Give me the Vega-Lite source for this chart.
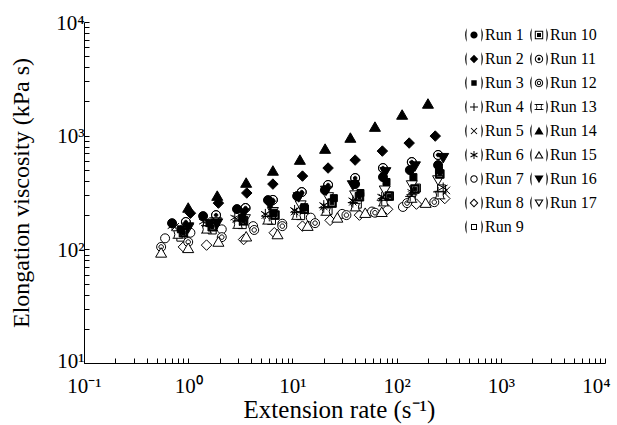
{
  "$schema": "https://vega.github.io/schema/vega-lite/v6.json",
  "width": 521,
  "height": 341,
  "autosize": {"type": "none"},
  "padding": {"left": 84, "top": 22, "right": 12, "bottom": 62},
  "background": "white",
  "config": {
    "view": {"stroke": null},
    "font": "Liberation Serif",
    "axis": {
      "grid": false,
      "domainColor": "black",
      "domainWidth": 1,
      "tickColor": "black",
      "tickWidth": 1,
      "tickSize": -5,
      "labelColor": "black",
      "titleColor": "black",
      "labelFont": "Liberation Serif",
      "titleFont": "Liberation Serif",
      "labelFontSize": 21,
      "titleFontWeight": "normal",
      "labelFlush": false,
      "labelOverlap": false,
      "labelBound": false
    },
    "legend": {
      "labelFont": "Liberation Serif",
      "labelFontSize": 16,
      "labelColor": "black",
      "symbolFillColor": "black",
      "symbolStrokeWidth": 0,
      "symbolOpacity": 1,
      "symbolSize": 400,
      "padding": 0
    }
  },
  "data": {
    "values": [
      {"run": "Run 7", "x": 0.6, "y": 125}, {"run": "Run 7", "x": 1.05, "y": 140}, {"run": "Run 7", "x": 2.1, "y": 150}, {"run": "Run 7", "x": 4.2, "y": 160}, {"run": "Run 7", "x": 8, "y": 168}, {"run": "Run 7", "x": 15, "y": 190}, {"run": "Run 7", "x": 30, "y": 205}, {"run": "Run 7", "x": 58, "y": 215}, {"run": "Run 7", "x": 115, "y": 236}, {"run": "Run 7", "x": 270, "y": 319},
      {"run": "Run 8", "x": 0.9, "y": 105}, {"run": "Run 8", "x": 1.5, "y": 109}, {"run": "Run 8", "x": 3.4, "y": 122}, {"run": "Run 8", "x": 6.7, "y": 140}, {"run": "Run 8", "x": 12.5, "y": 160}, {"run": "Run 8", "x": 23, "y": 180}, {"run": "Run 8", "x": 44, "y": 200}, {"run": "Run 8", "x": 82, "y": 225}, {"run": "Run 8", "x": 155, "y": 250}, {"run": "Run 8", "x": 290, "y": 280},
      {"run": "Run 9", "x": 0.85, "y": 128}, {"run": "Run 9", "x": 1.7, "y": 148}, {"run": "Run 9", "x": 3.3, "y": 165}, {"run": "Run 9", "x": 6.3, "y": 180}, {"run": "Run 9", "x": 12, "y": 198}, {"run": "Run 9", "x": 22, "y": 220}, {"run": "Run 9", "x": 42, "y": 250}, {"run": "Run 9", "x": 82, "y": 294}, {"run": "Run 9", "x": 155, "y": 346}, {"run": "Run 9", "x": 270, "y": 340},
      {"run": "Run 12", "x": 0.55, "y": 105}, {"run": "Run 12", "x": 1.0, "y": 116}, {"run": "Run 12", "x": 2.1, "y": 128}, {"run": "Run 12", "x": 4.3, "y": 148}, {"run": "Run 12", "x": 8, "y": 160}, {"run": "Run 12", "x": 16.5, "y": 170}, {"run": "Run 12", "x": 33, "y": 200}, {"run": "Run 12", "x": 62, "y": 210}, {"run": "Run 12", "x": 126, "y": 255}, {"run": "Run 12", "x": 230, "y": 260},
      {"run": "Run 13", "x": 0.8, "y": 135}, {"run": "Run 13", "x": 1.5, "y": 150}, {"run": "Run 13", "x": 3.0, "y": 165}, {"run": "Run 13", "x": 5.8, "y": 180}, {"run": "Run 13", "x": 11, "y": 198}, {"run": "Run 13", "x": 21, "y": 215}, {"run": "Run 13", "x": 40, "y": 235}, {"run": "Run 13", "x": 75, "y": 260}, {"run": "Run 13", "x": 140, "y": 280}, {"run": "Run 13", "x": 260, "y": 300},
      {"run": "Run 15", "x": 0.55, "y": 93}, {"run": "Run 15", "x": 1.0, "y": 102}, {"run": "Run 15", "x": 1.95, "y": 116}, {"run": "Run 15", "x": 3.6, "y": 129}, {"run": "Run 15", "x": 7.2, "y": 135}, {"run": "Run 15", "x": 14, "y": 160}, {"run": "Run 15", "x": 27, "y": 189}, {"run": "Run 15", "x": 50, "y": 208}, {"run": "Run 15", "x": 72, "y": 212}, {"run": "Run 15", "x": 190, "y": 255},
      {"run": "Run 17", "x": 1.0, "y": 154}, {"run": "Run 17", "x": 1.85, "y": 174}, {"run": "Run 17", "x": 3.5, "y": 185}, {"run": "Run 17", "x": 6.5, "y": 214}, {"run": "Run 17", "x": 12, "y": 245}, {"run": "Run 17", "x": 22, "y": 289}, {"run": "Run 17", "x": 40, "y": 300}, {"run": "Run 17", "x": 77, "y": 331}, {"run": "Run 17", "x": 140, "y": 368}, {"run": "Run 17", "x": 250, "y": 407},
      {"run": "Run 4", "x": 0.85, "y": 148}, {"run": "Run 4", "x": 1.6, "y": 160}, {"run": "Run 4", "x": 3.1, "y": 178}, {"run": "Run 4", "x": 6.0, "y": 195}, {"run": "Run 4", "x": 11, "y": 210}, {"run": "Run 4", "x": 20, "y": 232}, {"run": "Run 4", "x": 38, "y": 258}, {"run": "Run 4", "x": 72, "y": 270}, {"run": "Run 4", "x": 135, "y": 292}, {"run": "Run 4", "x": 250, "y": 320},
      {"run": "Run 5", "x": 0.75, "y": 158}, {"run": "Run 5", "x": 1.5, "y": 178}, {"run": "Run 5", "x": 2.9, "y": 185}, {"run": "Run 5", "x": 5.5, "y": 200}, {"run": "Run 5", "x": 10.5, "y": 215}, {"run": "Run 5", "x": 20, "y": 238}, {"run": "Run 5", "x": 38, "y": 262}, {"run": "Run 5", "x": 73, "y": 285}, {"run": "Run 5", "x": 140, "y": 300}, {"run": "Run 5", "x": 300, "y": 330},
      {"run": "Run 6", "x": 0.7, "y": 160}, {"run": "Run 6", "x": 1.4, "y": 175}, {"run": "Run 6", "x": 2.8, "y": 190}, {"run": "Run 6", "x": 5.5, "y": 205}, {"run": "Run 6", "x": 10.5, "y": 222}, {"run": "Run 6", "x": 20, "y": 245}, {"run": "Run 6", "x": 38, "y": 270}, {"run": "Run 6", "x": 72, "y": 290}, {"run": "Run 6", "x": 140, "y": 320}, {"run": "Run 6", "x": 280, "y": 350},
      {"run": "Run 1", "x": 0.7, "y": 170}, {"run": "Run 1", "x": 1.39, "y": 196}, {"run": "Run 1", "x": 2.94, "y": 226}, {"run": "Run 1", "x": 5.83, "y": 271}, {"run": "Run 1", "x": 11.1, "y": 294}, {"run": "Run 1", "x": 20.5, "y": 332}, {"run": "Run 1", "x": 40, "y": 375}, {"run": "Run 1", "x": 74, "y": 432}, {"run": "Run 1", "x": 134, "y": 498}, {"run": "Run 1", "x": 250, "y": 551},
      {"run": "Run 3", "x": 0.85, "y": 150}, {"run": "Run 3", "x": 1.6, "y": 170}, {"run": "Run 3", "x": 3.3, "y": 190}, {"run": "Run 3", "x": 6.6, "y": 210}, {"run": "Run 3", "x": 13, "y": 235}, {"run": "Run 3", "x": 25, "y": 282}, {"run": "Run 3", "x": 45, "y": 313}, {"run": "Run 3", "x": 80, "y": 391}, {"run": "Run 3", "x": 145, "y": 432}, {"run": "Run 3", "x": 255, "y": 498},
      {"run": "Run 10", "x": 0.9, "y": 140}, {"run": "Run 10", "x": 1.7, "y": 158}, {"run": "Run 10", "x": 3.4, "y": 178}, {"run": "Run 10", "x": 6.8, "y": 200}, {"run": "Run 10", "x": 13, "y": 225}, {"run": "Run 10", "x": 24, "y": 255}, {"run": "Run 10", "x": 44, "y": 290}, {"run": "Run 10", "x": 85, "y": 294}, {"run": "Run 10", "x": 150, "y": 339}, {"run": "Run 10", "x": 260, "y": 460},
      {"run": "Run 11", "x": 0.95, "y": 174}, {"run": "Run 11", "x": 1.85, "y": 200}, {"run": "Run 11", "x": 3.55, "y": 231}, {"run": "Run 11", "x": 6.5, "y": 272}, {"run": "Run 11", "x": 12.3, "y": 319}, {"run": "Run 11", "x": 22, "y": 368}, {"run": "Run 11", "x": 40, "y": 424}, {"run": "Run 11", "x": 74, "y": 519}, {"run": "Run 11", "x": 140, "y": 586}, {"run": "Run 11", "x": 250, "y": 676},
      {"run": "Run 16", "x": 1.0, "y": 157}, {"run": "Run 16", "x": 1.9, "y": 170}, {"run": "Run 16", "x": 3.4, "y": 209}, {"run": "Run 16", "x": 6.1, "y": 245}, {"run": "Run 16", "x": 11.5, "y": 289}, {"run": "Run 16", "x": 21, "y": 330}, {"run": "Run 16", "x": 38, "y": 368}, {"run": "Run 16", "x": 78, "y": 480}, {"run": "Run 16", "x": 150, "y": 540}, {"run": "Run 16", "x": 280, "y": 640},
      {"run": "Run 2", "x": 1.05, "y": 208}, {"run": "Run 2", "x": 1.95, "y": 255}, {"run": "Run 2", "x": 3.65, "y": 313}, {"run": "Run 2", "x": 6.5, "y": 375}, {"run": "Run 2", "x": 12.5, "y": 441}, {"run": "Run 2", "x": 22, "y": 519}, {"run": "Run 2", "x": 40, "y": 610}, {"run": "Run 2", "x": 73, "y": 732}, {"run": "Run 2", "x": 132, "y": 861}, {"run": "Run 2", "x": 235, "y": 992},
      {"run": "Run 14", "x": 1.0, "y": 231}, {"run": "Run 14", "x": 1.9, "y": 294}, {"run": "Run 14", "x": 3.6, "y": 383}, {"run": "Run 14", "x": 6.5, "y": 489}, {"run": "Run 14", "x": 11.8, "y": 610}, {"run": "Run 14", "x": 20.6, "y": 762}, {"run": "Run 14", "x": 36, "y": 953}, {"run": "Run 14", "x": 62, "y": 1190}, {"run": "Run 14", "x": 113, "y": 1520}, {"run": "Run 14", "x": 200, "y": 1900}
    ]
  },
  "encoding": {
    "x": {
      "field": "x", "type": "quantitative",
      "scale": {"type": "log", "domain": [0.1, 10000]},
      "axis": {
        "title": "Extension rate (s⁻¹)",
        "titleFontSize": 25,
        "titleX": 255,
        "values": [0.1,0.2,0.3,0.4,0.5,0.6,0.7,0.8,0.9,1,2,3,4,5,6,7,8,9,10,20,30,40,50,60,70,80,90,100,200,300,400,500,600,700,800,900,1000,2000,3000,4000,5000,6000,7000,8000,9000,10000],
        "labelExpr": "datum.value == 0.1 ? '10⁻¹' : datum.value == 1 ? '10⁰' : datum.value == 10 ? '10¹' : datum.value == 100 ? '10²' : datum.value == 1000 ? '10³' : datum.value == 10000 ? '10⁴' : ''",
        "labelOffset": {"condition": {"test": "datum.value == 10000", "value": -9}, "value": 0},
        "labelPadding": 17,
        "titlePadding": 1
      }
    },
    "y": {
      "field": "y", "type": "quantitative",
      "scale": {"type": "log", "domain": [10, 10000]},
      "axis": {
        "title": "Elongation viscosity (kPa s)",
        "titleFontSize": 24,
        "values": [10,20,30,40,50,60,70,80,90,100,200,300,400,500,600,700,800,900,1000,2000,3000,4000,5000,6000,7000,8000,9000,10000],
        "labelExpr": "datum.value == 10 ? '10¹' : datum.value == 100 ? '10²' : datum.value == 1000 ? '10³' : datum.value == 10000 ? '10⁴' : ''",
        "labelPadding": 5,
        "labelOffset": {"condition": {"test": "datum.value == 10", "value": -2}, "value": 1},
        "titlePadding": 22
      }
    }
  },
  "layer": [
    {
      "mark": {"type": "point", "filled": true, "stroke": "black", "strokeWidth": 1, "opacity": 1, "size": 100},
      "encoding": {
        "shape": {
          "field": "run", "type": "nominal", "legend": null,
          "scale": {
            "domain": ["Run 1","Run 2","Run 3","Run 4","Run 5","Run 6","Run 7","Run 8","Run 9","Run 10","Run 11","Run 12","Run 13","Run 14","Run 15","Run 16","Run 17"],
            "range": [
              "M0.9,0A0.9,0.9 0 1,1 -0.9,0A0.9,0.9 0 1,1 0.9,0Z",
              "M0,-1.05L1.05,0L0,1.05L-1.05,0Z",
              "M-0.7,-0.7H0.7V0.7H-0.7Z",
              "M-1,0H1M0,-1V1",
              "M-0.75,-0.75L0.75,0.75M-0.75,0.75L0.75,-0.75",
              "M0,-1V1M-0.87,-0.5L0.87,0.5M-0.87,0.5L0.87,-0.5",
              "M0.9,0A0.9,0.9 0 1,1 -0.9,0A0.9,0.9 0 1,1 0.9,0Z",
              "M0,-1.05L1.05,0L0,1.05L-1.05,0Z",
              "M-0.8,-0.8H0.8V0.8H-0.8Z",
              "M-0.85,-0.85H0.85V0.85H-0.85Z M-0.6,-0.6V0.6H0.6V-0.6Z M-0.35,-0.35H0.35V0.35H-0.35Z",
              "M0.9,0A0.9,0.9 0 1,1 -0.9,0A0.9,0.9 0 1,1 0.9,0Z M0.9,0A0.9,0.9 0 1,0 -0.9,0A0.9,0.9 0 1,0 0.9,0Z M0.35,0A0.35,0.35 0 1,1 -0.35,0A0.35,0.35 0 1,1 0.35,0Z",
              "M0.9,0A0.9,0.9 0 1,1 -0.9,0A0.9,0.9 0 1,1 0.9,0Z M0.45,0A0.45,0.45 0 1,1 -0.45,0A0.45,0.45 0 1,1 0.45,0Z",
              "M-0.85,-0.75L0.85,-0.75Q0.45,0 0.85,0.75L-0.85,0.75Q-0.45,0 -0.85,-0.75Z M-1.1,-0.75H-0.85M0.85,-0.75H1.1M-1.1,0.75H-0.85M0.85,0.75H1.1",
              "M0,-1.05L1.1,0.85H-1.1Z",
              "M0,-1.05L1.1,0.85H-1.1Z",
              "M0,1.05L1.1,-0.85H-1.1Z",
              "M0,1.05L1.1,-0.85H-1.1Z"
            ]
          }
        },
        "fill": {
          "field": "run", "type": "nominal", "legend": null,
          "scale": {
            "domain": ["Run 1","Run 2","Run 3","Run 4","Run 5","Run 6","Run 7","Run 8","Run 9","Run 10","Run 11","Run 12","Run 13","Run 14","Run 15","Run 16","Run 17"],
            "range": ["black","black","black","white","white","white","white","white","white","black","black","white","white","black","white","black","white"]
          }
        }
      }
    },
    {
      "mark": {"type": "point", "filled": true, "color": "black", "strokeWidth": 0, "opacity": 0, "size": 400},
      "encoding": {
        "shape": {
          "field": "run", "type": "nominal",
          "legend": {"orient": "none", "legendX": 380, "legendY": 3, "columns": 2, "title": null, "rowPadding": 6, "columnPadding": 5, "labelOffset": 1, "symbolSize": 400, "labelFont": "Liberation Serif", "labelFontSize": 16, "symbolFillColor": "black", "symbolStrokeWidth": 0},
          "scale": {
            "domain": ["Run 1","Run 2","Run 3","Run 4","Run 5","Run 6","Run 7","Run 8","Run 9","Run 10","Run 11","Run 12","Run 13","Run 14","Run 15","Run 16","Run 17"],
            "range": [
              "M-0.72,-0.7Q-1.05,0 -0.72,0.7Q-0.81,0 -0.72,-0.7Z M0.72,-0.7Q1.05,0 0.72,0.7Q0.81,0 0.72,-0.7Z M0.36,0A0.36,0.36 0 1,1 -0.36,0A0.36,0.36 0 1,1 0.36,0Z",
              "M-0.72,-0.7Q-1.05,0 -0.72,0.7Q-0.81,0 -0.72,-0.7Z M0.72,-0.7Q1.05,0 0.72,0.7Q0.81,0 0.72,-0.7Z M0,-0.42L0.42,0L0,0.42L-0.42,0Z",
              "M-0.72,-0.7Q-1.05,0 -0.72,0.7Q-0.81,0 -0.72,-0.7Z M0.72,-0.7Q1.05,0 0.72,0.7Q0.81,0 0.72,-0.7Z M-0.27,-0.27H0.27V0.27H-0.27Z",
              "M-0.72,-0.7Q-1.05,0 -0.72,0.7Q-0.81,0 -0.72,-0.7Z M0.72,-0.7Q1.05,0 0.72,0.7Q0.81,0 0.72,-0.7Z M-0.4,-0.05H0.4V0.05H-0.4Z M-0.05,-0.4H0.05V0.4H-0.05Z",
              "M-0.72,-0.7Q-1.05,0 -0.72,0.7Q-0.81,0 -0.72,-0.7Z M0.72,-0.7Q1.05,0 0.72,0.7Q0.81,0 0.72,-0.7Z M-0.265,-0.335L0.335,0.265L0.265,0.335L-0.335,-0.265Z M0.265,-0.335L0.335,-0.265L-0.265,0.335L-0.335,0.265Z",
              "M-0.72,-0.7Q-1.05,0 -0.72,0.7Q-0.81,0 -0.72,-0.7Z M0.72,-0.7Q1.05,0 0.72,0.7Q0.81,0 0.72,-0.7Z M-0.05,-0.4H0.05V0.4H-0.05Z M-0.321,-0.243L0.371,0.157L0.321,0.243L-0.371,-0.157Z M-0.371,0.157L0.321,-0.243L0.371,-0.157L-0.321,0.243Z",
              "M-0.72,-0.7Q-1.05,0 -0.72,0.7Q-0.81,0 -0.72,-0.7Z M0.72,-0.7Q1.05,0 0.72,0.7Q0.81,0 0.72,-0.7Z M0.37,0A0.37,0.37 0 1,1 -0.37,0A0.37,0.37 0 1,1 0.37,0Z M0.27,0A0.27,0.27 0 1,0 -0.27,0A0.27,0.27 0 1,0 0.27,0Z",
              "M-0.72,-0.7Q-1.05,0 -0.72,0.7Q-0.81,0 -0.72,-0.7Z M0.72,-0.7Q1.05,0 0.72,0.7Q0.81,0 0.72,-0.7Z M0,-0.44L0.44,0L0,0.44L-0.44,0Z M0,-0.3L-0.3,0L0,0.3L0.3,0Z",
              "M-0.72,-0.7Q-1.05,0 -0.72,0.7Q-0.81,0 -0.72,-0.7Z M0.72,-0.7Q1.05,0 0.72,0.7Q0.81,0 0.72,-0.7Z M-0.3,-0.3H0.3V0.3H-0.3Z M-0.2,-0.2V0.2H0.2V-0.2Z",
              "M-0.72,-0.7Q-1.05,0 -0.72,0.7Q-0.81,0 -0.72,-0.7Z M0.72,-0.7Q1.05,0 0.72,0.7Q0.81,0 0.72,-0.7Z M-0.42,-0.42H0.42V0.42H-0.42Z M-0.32,-0.32V0.32H0.32V-0.32Z M-0.2,-0.2H0.2V0.2H-0.2Z",
              "M-0.72,-0.7Q-1.05,0 -0.72,0.7Q-0.81,0 -0.72,-0.7Z M0.72,-0.7Q1.05,0 0.72,0.7Q0.81,0 0.72,-0.7Z M0.42,0A0.42,0.42 0 1,1 -0.42,0A0.42,0.42 0 1,1 0.42,0Z M0.32,0A0.32,0.32 0 1,0 -0.32,0A0.32,0.32 0 1,0 0.32,0Z M0.15,0A0.15,0.15 0 1,1 -0.15,0A0.15,0.15 0 1,1 0.15,0Z",
              "M-0.72,-0.7Q-1.05,0 -0.72,0.7Q-0.81,0 -0.72,-0.7Z M0.72,-0.7Q1.05,0 0.72,0.7Q0.81,0 0.72,-0.7Z M0.42,0A0.42,0.42 0 1,1 -0.42,0A0.42,0.42 0 1,1 0.42,0Z M0.32,0A0.32,0.32 0 1,0 -0.32,0A0.32,0.32 0 1,0 0.32,0Z M0.22,0A0.22,0.22 0 1,1 -0.22,0A0.22,0.22 0 1,1 0.22,0Z M0.12,0A0.12,0.12 0 1,0 -0.12,0A0.12,0.12 0 1,0 0.12,0Z",
              "M-0.72,-0.7Q-1.05,0 -0.72,0.7Q-0.81,0 -0.72,-0.7Z M0.72,-0.7Q1.05,0 0.72,0.7Q0.81,0 0.72,-0.7Z M-0.32,-0.3L0.32,-0.3Q0.17,0 0.32,0.3L-0.32,0.3Q-0.17,0 -0.32,-0.3Z M-0.22,-0.2Q-0.1,0 -0.22,0.2L0.22,0.2Q0.1,0 0.22,-0.2Z M-0.44,-0.3H-0.32V-0.2H-0.44Z M0.32,-0.3H0.44V-0.2H0.32Z M-0.44,0.2H-0.32V0.3H-0.44Z M0.32,0.2H0.44V0.3H0.32Z",
              "M-0.72,-0.7Q-1.05,0 -0.72,0.7Q-0.81,0 -0.72,-0.7Z M0.72,-0.7Q1.05,0 0.72,0.7Q0.81,0 0.72,-0.7Z M0,-0.42L0.46,0.36H-0.46Z",
              "M-0.72,-0.7Q-1.05,0 -0.72,0.7Q-0.81,0 -0.72,-0.7Z M0.72,-0.7Q1.05,0 0.72,0.7Q0.81,0 0.72,-0.7Z M0,-0.42L0.46,0.36H-0.46Z M0,-0.212L-0.276,0.256H0.276Z",
              "M-0.72,-0.7Q-1.05,0 -0.72,0.7Q-0.81,0 -0.72,-0.7Z M0.72,-0.7Q1.05,0 0.72,0.7Q0.81,0 0.72,-0.7Z M0,0.42L0.46,-0.36H-0.46Z",
              "M-0.72,-0.7Q-1.05,0 -0.72,0.7Q-0.81,0 -0.72,-0.7Z M0.72,-0.7Q1.05,0 0.72,0.7Q0.81,0 0.72,-0.7Z M0,0.42L0.46,-0.36H-0.46Z M0,0.212L-0.276,-0.256H0.276Z"
            ]
          }
        }
      }
    }
  ],
  "resolve": {"scale": {"shape": "independent"}}
}
